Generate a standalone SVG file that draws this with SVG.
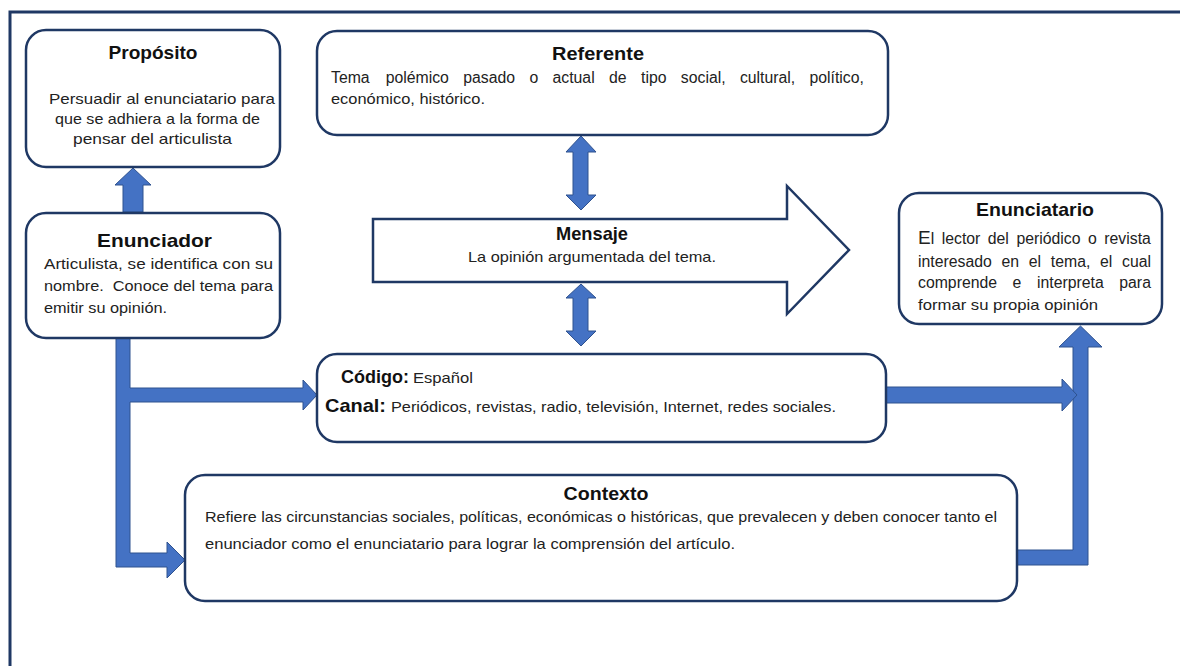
<svg xmlns="http://www.w3.org/2000/svg" width="1180" height="666" viewBox="0 0 1180 666">
<style>
.box{fill:#fff;stroke:#1F3864;stroke-width:2.5}
.frame{fill:none;stroke:#1F3864;stroke-width:3}
.arr{fill:#4472C4;stroke:#2F528F;stroke-width:1}
.msg{fill:#fff;stroke:#1F3864;stroke-width:2.5;stroke-linejoin:miter}
.t{font-family:"Liberation Sans",Arial,sans-serif;font-weight:bold;font-size:19px;fill:#111}
.b{font-family:"Liberation Sans",Arial,sans-serif;font-size:15px;fill:#222}
.j{font-size:15.8px}
.c{text-anchor:middle}
</style>
<rect width="1180" height="666" fill="#fff"/>
<path class="frame" d="M10,666 L10,12 L1180,12"/>

<g id="connectors">
<path class="arr" d="M123,212 L123,185 L115,185 L133,168 L151,185 L143,185 L143,212 Z"/>
<path class="arr" d="M116,338 L130,338 L130,388 L303,388 L303,380 L317,395 L303,410 L303,402 L130,402 L130,553 L167,553 L167,542 L185,560 L167,578 L167,567 L116,567 Z"/>
<path class="arr" d="M581,136 L596,152 L588,152 L588,195 L596,195 L581,210 L566,195 L573,195 L573,152 L566,152 Z"/>
<path class="arr" d="M581,284 L596,298 L588,298 L588,331 L596,331 L581,346 L566,331 L573,331 L573,298 L566,298 Z"/>
<path class="arr" d="M1017,550 L1073,550 L1073,347 L1059,347 L1080.5,326 L1102,347 L1088,347 L1088,565 L1017,565 Z"/>
<path class="arr" d="M886,387 L1062,387 L1062,379 L1077,395 L1062,411 L1062,403 L886,403 Z"/>
</g>

<g id="proposito">
<rect class="box" x="26" y="30" width="254" height="137" rx="20"/>
<text class="t c" x="153" y="59" textLength="89" lengthAdjust="spacingAndGlyphs">Propósito</text>
<text class="b c" x="162" y="104" textLength="226" lengthAdjust="spacingAndGlyphs">Persuadir al enunciatario para</text>
<text class="b c" x="157.5" y="124" textLength="205" lengthAdjust="spacingAndGlyphs">que se adhiera a la forma de</text>
<text class="b c" x="152.5" y="144" textLength="159" lengthAdjust="spacingAndGlyphs">pensar del articulista</text>
</g>

<g id="enunciador">
<rect class="box" x="26" y="213" width="254" height="125" rx="20"/>
<text class="t c" x="154.5" y="247" font-size="20" textLength="115" lengthAdjust="spacingAndGlyphs">Enunciador</text>
<text class="b" x="44" y="269" textLength="229" lengthAdjust="spacingAndGlyphs">Articulista, se identifica con su</text>
<text class="b" x="44" y="291" textLength="229" lengthAdjust="spacingAndGlyphs">nombre.&#160; Conoce del tema para</text>
<text class="b" x="44" y="313" textLength="123" lengthAdjust="spacingAndGlyphs">emitir su opinión.</text>
</g>

<g id="referente">
<rect class="box" x="317" y="31" width="571" height="104" rx="20"/>
<text class="t c" x="598" y="60" textLength="92" lengthAdjust="spacingAndGlyphs">Referente</text>
<text class="b j" y="83"><tspan x="331">Tema </tspan><tspan x="385.7">polémico </tspan><tspan x="463.3">pasado </tspan><tspan x="529.4">o </tspan><tspan x="552.5">actual </tspan><tspan x="609">de </tspan><tspan x="641">tipo </tspan><tspan x="680.8">social, </tspan><tspan x="739.9">cultural, </tspan><tspan x="809.5">político,</tspan></text>
<text class="b" x="331" y="104" textLength="154" lengthAdjust="spacingAndGlyphs">económico, histórico.</text>
</g>

<g id="mensaje">
<path class="msg" d="M373,219 L787,219 L787,186 L849,250 L787,314 L787,282 L373,282 Z"/>
<text class="t c" x="592" y="240" textLength="72" lengthAdjust="spacingAndGlyphs">Mensaje</text>
<text class="b c" x="592" y="262" textLength="248" lengthAdjust="spacingAndGlyphs">La opinión argumentada del tema.</text>
</g>

<g id="codigo-canal">
<rect class="box" x="317" y="354" width="569" height="88" rx="20"/>
<text class="t" x="341" y="383" textLength="68" lengthAdjust="spacingAndGlyphs">Código:</text>
<text class="b" x="413" y="383" textLength="60" lengthAdjust="spacingAndGlyphs">Español</text>
<text class="t" x="325" y="412" font-size="20" textLength="61" lengthAdjust="spacingAndGlyphs">Canal:</text>
<text class="b" x="391" y="412" textLength="445" lengthAdjust="spacingAndGlyphs">Periódicos, revistas, radio, televisión, Internet, redes sociales.</text>
</g>

<g id="enunciatario">
<rect class="box" x="899" y="193" width="263" height="131" rx="20"/>
<text class="t c" x="1035" y="216" textLength="118" lengthAdjust="spacingAndGlyphs">Enunciatario</text>
<text class="b j" y="244"><tspan x="918" font-size="19">E</tspan><tspan>l </tspan><tspan x="941.7">lector </tspan><tspan x="987.8">del </tspan><tspan x="1016.4">periódico </tspan><tspan x="1088">o </tspan><tspan x="1104.3">revista</tspan></text>
<text class="b j" y="267"><tspan x="918">interesado </tspan><tspan x="1001.5">en </tspan><tspan x="1028.8">el </tspan><tspan x="1050.8">tema, </tspan><tspan x="1100">el </tspan><tspan x="1122">cual</tspan></text>
<text class="b j" y="288"><tspan x="918">comprende </tspan><tspan x="1012.6">e </tspan><tspan x="1037">interpreta </tspan><tspan x="1119.3">para</tspan></text>
<text class="b" x="918" y="310" textLength="180" lengthAdjust="spacingAndGlyphs">formar su propia opinión</text>
</g>

<g id="contexto">
<rect class="box" x="185" y="475" width="832" height="126" rx="20"/>
<text class="t c" x="606" y="500" textLength="85" lengthAdjust="spacingAndGlyphs">Contexto</text>
<text class="b" x="205" y="522" textLength="792" lengthAdjust="spacingAndGlyphs">Refiere las circunstancias sociales, políticas, económicas o históricas, que prevalecen y deben conocer tanto el</text>
<text class="b" x="205" y="549" textLength="530" lengthAdjust="spacingAndGlyphs">enunciador como el enunciatario para lograr la comprensión del artículo.</text>
</g>
</svg>
